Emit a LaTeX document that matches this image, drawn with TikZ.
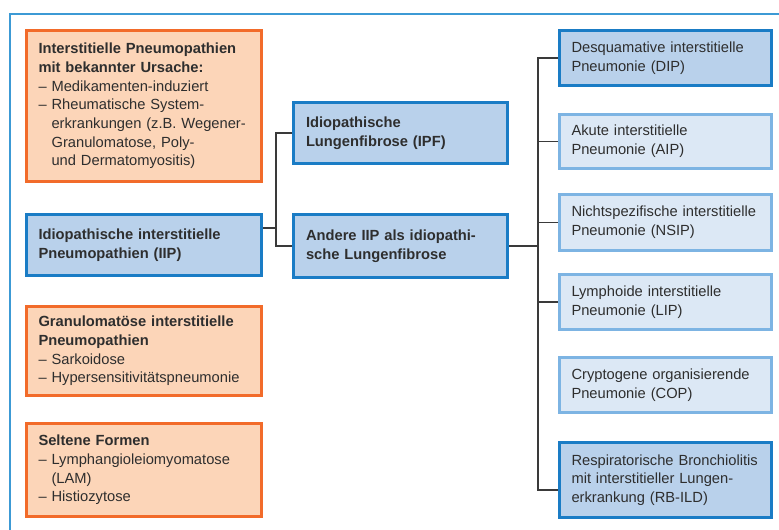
\documentclass[tikz,border=0pt]{standalone}
\usepackage{fontspec}
\setmainfont{Liberation Sans}
\definecolor{frameblue}{HTML}{3C9AD5}
\definecolor{ofill}{HTML}{FCD5B8}
\definecolor{oborder}{HTML}{F26B2A}
\definecolor{bfill}{HTML}{B9D1EB}
\definecolor{bborder}{HTML}{1A7CC5}
\definecolor{lfill}{HTML}{DCE8F5}
\definecolor{lborder}{HTML}{7DB4E3}
\definecolor{txt}{HTML}{2E2E2E}
\definecolor{conn}{HTML}{3A3A3A}
\newcommand{\ind}{\phantom{–\ }}
\tikzset{
  box/.style={rectangle, line width=3pt, inner ysep=0pt, align=left, text=txt,
    font=\fontsize{14.7}{18.7}\selectfont},
  leftbox/.style={box, minimum width=235pt, text width=211pt, inner xsep=12pt},
  midbox/.style={box, minimum width=214pt, text width=189pt, inner xsep=12.5pt},
  rightbox/.style={box, minimum width=212pt, text width=188pt, inner xsep=12pt},
  orange/.style={fill=ofill, draw=oborder},
  dark/.style={fill=bfill, draw=bborder},
  light/.style={fill=lfill, draw=lborder},
  connector/.style={draw=conn, line width=1.5pt},
}
\begin{document}
\begin{tikzpicture}[x=1pt,y=-1pt]
\useasboundingbox (0,0) rectangle (779,530);
\draw[frameblue, line width=2pt] (10,530) -- (10,14) -- (779,14);

% left column
\node[leftbox, orange, minimum height=151pt] (known) at (144,106)
  {\textbf{Interstitielle Pneumopathien}\\\textbf{mit bekannter Ursache:}\\– Medikamenten-induziert\\– Rheumatische System-\\\ind erkrankungen (z.B. Wegener-\\\ind Granulomatose, Poly-\\\ind und Dermatomyositis)};
\node[leftbox, dark, minimum height=61pt] (iip) at (144,245)
  {\textbf{Idiopathische interstitielle}\\\textbf{Pneumopathien (IIP)}};
\node[leftbox, orange, minimum height=89pt] (gran) at (144,351)
  {\textbf{Granulomatöse interstitielle}\\\textbf{Pneumopathien}\\– Sarkoidose\\– Hypersensitivitätspneumonie};
\node[leftbox, orange, minimum height=93pt] (rare) at (144,470)
  {\textbf{Seltene Formen}\\– Lymphangioleiomyomatose\\\ind (LAM)\\– Histiozytose};

% middle column
\node[midbox, dark, minimum height=61pt] (ipf) at (400.5,133)
  {\textbf{Idiopathische}\\\textbf{Lungenfibrose (IPF)}};
\node[midbox, dark, minimum height=63pt] (other) at (400.5,246)
  {\textbf{Andere IIP als idiopathi-}\\\textbf{sche Lungenfibrose}};

% right column
\node[rightbox, dark, minimum height=55pt] (dip) at (665.5,58)
  {Desquamative interstitielle\\Pneumonie (DIP)};
\node[rightbox, light, minimum height=54pt] (aip) at (665.5,141.5)
  {Akute interstitielle\\Pneumonie (AIP)};
\node[rightbox, light, minimum height=56pt] (nsip) at (665.5,222.5)
  {Nichtspezifische interstitielle\\Pneumonie (NSIP)};
\node[rightbox, light, minimum height=55pt] (lip) at (665.5,302)
  {Lymphoide interstitielle\\Pneumonie (LIP)};
\node[rightbox, light, minimum height=55pt] (cop) at (665.5,385)
  {Cryptogene organisierende\\Pneumonie (COP)};
\node[rightbox, dark, minimum height=75pt] (rbild) at (665.5,480)
  {Respiratorische Bronchiolitis\\mit interstitieller Lungen-\\erkrankung (RB-ILD)};

% connectors left
\coordinate (j1) at (276,228);
\draw[connector] (iip.east |- j1) -- (j1);
\draw[connector] (ipf.west) -| (j1) |- (other.west);

% connectors right
\coordinate (bus) at (538,490);
\draw[connector] (other.east) -- (other.east -| bus);
\draw[connector] (dip.west) -| (bus) -- (bus -| rbild.west);
\draw[connector] (aip.west) -- (aip.west -| bus);
\draw[connector] (nsip.west) -- (nsip.west -| bus);
\draw[connector] (lip.west) -- (lip.west -| bus);
\end{tikzpicture}
\end{document}
